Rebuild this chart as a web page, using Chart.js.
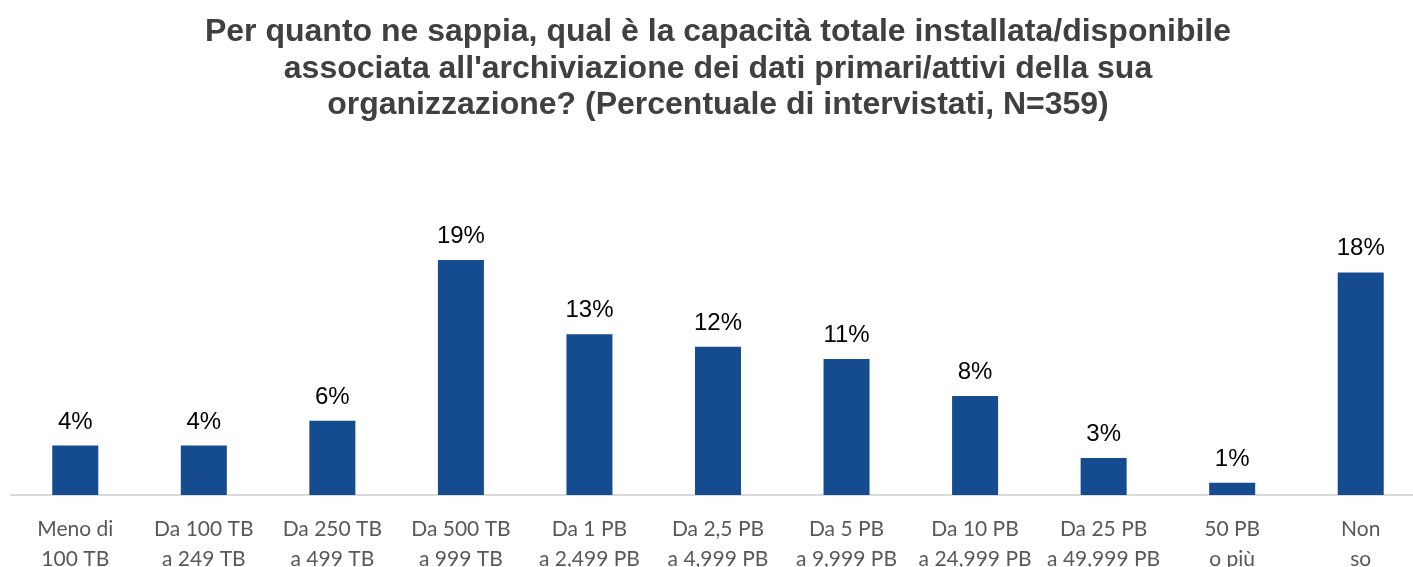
<!doctype html>
<html lang="it">
<head>
<meta charset="utf-8">
<title>Capacità di archiviazione dei dati primari</title>
<script src="https://cdn.jsdelivr.net/npm/chart.js"></script>
<style>
  html, body { margin: 0; padding: 0; background: #fff; overflow: hidden; }
  #wrap { width: 1413px; height: 567px; overflow: hidden; }
</style>
</head>
<body>
<div id="wrap"><canvas id="c" width="1426" height="580"></canvas></div>
<script>
// values
const categories = [
  ['Meno di', '100 TB'],
  ['Da 100 TB', 'a 249 TB'],
  ['Da 250 TB', 'a 499 TB'],
  ['Da 500 TB', 'a 999 TB'],
  ['Da 1 PB', 'a 2,499 PB'],
  ['Da 2,5 PB', 'a 4,999 PB'],
  ['Da 5 PB', 'a 9,999 PB'],
  ['Da 10 PB', 'a 24,999 PB'],
  ['Da 25 PB', 'a 49,999 PB'],
  ['50 PB', 'o più'],
  ['Non', 'so']
];
const percentages = [4, 4, 6, 19, 13, 12, 11, 8, 3, 1, 18];
const titleLines = [
  'Per quanto ne sappia, qual è la capacità totale installata/disponibile',
  "associata all'archiviazione dei dati primari/attivi della sua",
  'organizzazione? (Percentuale di intervistati, N=359)'
];

// percent labels above the bars
const valueLabels = {
  id: 'valueLabels',
  afterDatasetsDraw(chart) {
    const ctx = chart.ctx;
    const meta = chart.getDatasetMeta(0);
    ctx.save();
    ctx.font = '24px "Liberation Sans", Arial, sans-serif';
    ctx.fillStyle = '#000';
    ctx.textAlign = 'center';
    ctx.textBaseline = 'alphabetic';
    meta.data.forEach((bar, i) => {
      ctx.fillText(percentages[i] + '%', bar.x, bar.y - 17);
    });
    ctx.restore();
  }
};

new Chart(document.getElementById('c'), {
  type: 'bar',
  data: {
    labels: categories,
    datasets: [{
      data: percentages,
      backgroundColor: '#144C8F',
      categoryPercentage: 1,
      barPercentage: 0.358
    }]
  },
  options: {
    responsive: false,
    animation: false,
    layout: { padding: { left: 11, right: 1, top: 0, bottom: 0 } },
    plugins: {
      legend: { display: false },
      tooltip: { enabled: false },
      title: {
        display: true,
        text: titleLines,
        color: '#404040',
        font: { family: '"Liberation Sans", Arial, sans-serif', size: 32, weight: 'bold', lineHeight: 1.14 },
        padding: { top: 14, bottom: 62.5 }
      }
    },
    scales: {
      x: {
        grid: { display: false },
        border: { display: true, color: '#d9d9d9', width: 2 },
        ticks: {
          color: '#595959',
          font: { family: 'Lato, "Open Sans", sans-serif', size: 21, lineHeight: 1.43 },
          padding: 11,
          maxRotation: 0,
          autoSkip: false
        },
        afterFit(scale) { scale.height = 85; }
      },
      y: {
        display: false,
        min: 0,
        max: 25
      }
    }
  },
  plugins: [valueLabels]
});
</script>
</body>
</html>
